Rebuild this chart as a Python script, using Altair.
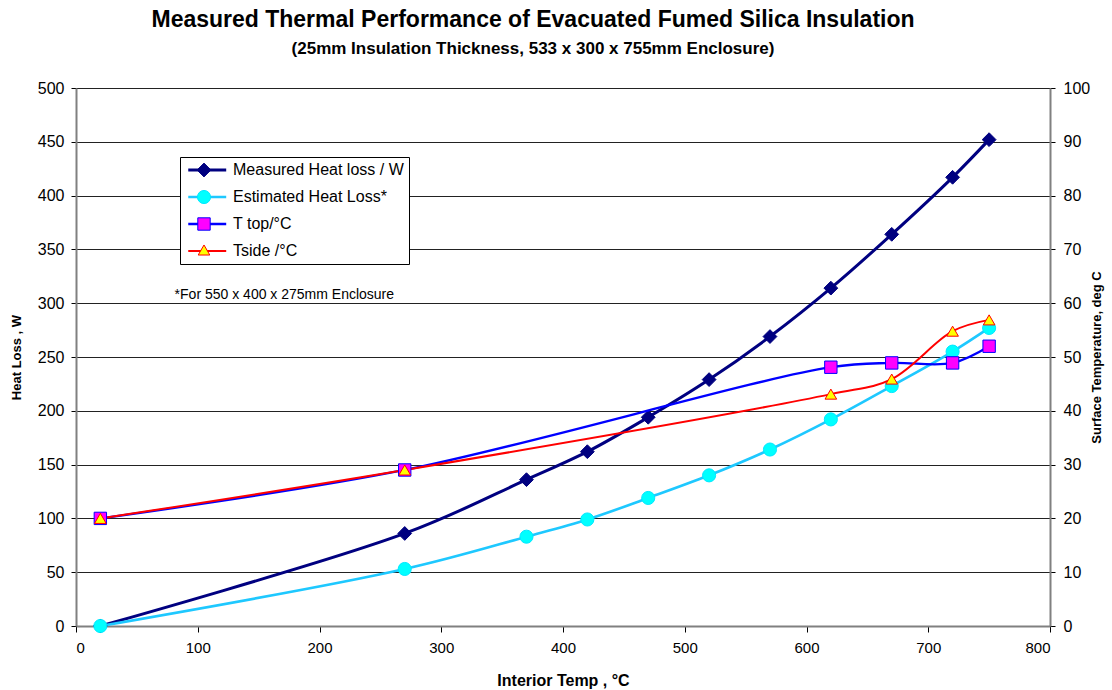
import altair as alt
import pandas as pd

# ---------------- data ----------------
series_names = ["Measured Heat loss / W", "Estimated Heat Loss*", "T top/°C", "Tside /°C"]
marker_keys = [s + " marker" for s in series_names]

heat_x = [20, 270, 370, 420, 470, 520, 570, 620, 670, 720, 750]
measured_w = [0, 86, 136, 162, 194, 229, 269, 314, 364, 417, 452]
estimated_w = [0, 53, 83, 99, 119, 140, 164, 192, 223, 255, 277]

temp_x = [20, 270, 620, 670, 720, 750]
t_top = [20, 29, 48.1, 48.9, 48.9, 52]
t_side = [20, 29, 43.1, 45.9, 54.8, 56.9]

note_text = ["*For 550 x 400 x 275mm Enclosure"]
note_x = [81]
note_y = [308]

x_ticks = list(range(0, 801, 100))
left_ticks = list(range(0, 501, 50))
right_ticks = list(range(0, 101, 10))

line_colors = ["#000080", "#1ec8ff", "#0000ff", "#ff0000"]
line_widths = [3, 2, 2, 2]
marker_fill = ["#000080", "#00ffff", "#ff00ff", "#ffff00"]
marker_stroke = ["#000080", "#00e8ff", "#0000ff", "#ff0000"]
marker_shapes = ["diamond", "circle", "square", "triangle-up"]
marker_sizes = [190, 135, 120, 150]

# ---------------- tables ----------------
def long_table(xs, ys, idx):
    return pd.DataFrame({"x": xs, "value": ys,
                         "series": series_names[idx], "marker": marker_keys[idx]})

heat_df = pd.concat([long_table(heat_x, measured_w, 0), long_table(heat_x, estimated_w, 1)])
temp_df = pd.concat([long_table(temp_x, t_top, 2), long_table(temp_x, t_side, 3)])
note_df = pd.DataFrame({"x": note_x, "value": note_y, "text": note_text})

LBL = "Liberation Sans"

# ---------------- scales / legends ----------------
color_scale = alt.Scale(domain=series_names, range=line_colors)
width_scale = alt.Scale(domain=series_names, range=line_widths)
fill_scale = alt.Scale(domain=marker_keys, range=marker_fill)
stroke_scale = alt.Scale(domain=marker_keys, range=marker_stroke)
shape_scale = alt.Scale(domain=marker_keys, range=marker_shapes)
size_scale = alt.Scale(domain=marker_keys, range=marker_sizes)

line_legend = alt.Legend(
    orient="none", legendX=104, legendY=69, title=None,
    symbolType="M-1,0H7", symbolSize=90, symbolStrokeWidth=2.5,
    labelFont=LBL, labelFontSize=16, labelColor="#000", labelOffset=32, labelLimit=400,
    fillColor="white", strokeColor="black", padding=5, rowPadding=11,
)
marker_legend = alt.Legend(
    orient="none", legendX=115, legendY=69, title=None,
    symbolStrokeWidth=1, symbolOpacity=1,
    labelFont=LBL, labelFontSize=16, labelExpr="''",
    padding=5, rowPadding=9,
)

x_enc = alt.X("x:Q", scale=alt.Scale(domain=[0, 800], nice=False),
              axis=alt.Axis(values=x_ticks, title="Interior Temp , °C", grid=False,
                            labelFont=LBL, labelFontSize=15, labelColor="#000",
                            labelPadding=8, tickSize=6, tickColor="#000",
                            domainColor="#808080", domainWidth=2,
                            titleFont=LBL, titleFontSize=16, titleFontWeight="bold",
                            titleColor="#000", titlePadding=17))

def lines(df):
    return alt.Chart(df).mark_line(interpolate="catmull-rom").encode(
        x=x_enc,
        color=alt.Color("series:N", scale=color_scale, legend=line_legend),
        strokeWidth=alt.StrokeWidth("series:N", scale=width_scale, legend=None),
    )

def points(df):
    return alt.Chart(df).mark_point(filled=True, strokeWidth=1, opacity=1).encode(
        x=x_enc,
        fill=alt.Fill("marker:N", scale=fill_scale, legend=marker_legend),
        stroke=alt.Stroke("marker:N", scale=stroke_scale, legend=marker_legend),
        shape=alt.Shape("marker:N", scale=shape_scale, legend=marker_legend),
        size=alt.Size("marker:N", scale=size_scale, legend=marker_legend),
    )

y_left = alt.Y("value:Q", scale=alt.Scale(domain=[0, 500], nice=False),
               axis=alt.Axis(values=left_ticks, title="Heat Loss , W", orient="left",
                             grid=True, gridColor="#222", gridWidth=1,
                             labelFont=LBL, labelFontSize=16, labelColor="#000",
                             labelPadding=7, tickSize=5, tickColor="#000",
                             domainColor="#808080", domainWidth=2,
                             titleFont=LBL, titleFontSize=13, titleFontWeight="bold",
                             titleColor="#000", titlePadding=14))
y_right = alt.Y("value:Q", scale=alt.Scale(domain=[0, 100], nice=False),
                axis=alt.Axis(values=right_ticks, title="Surface Temperature, deg C",
                              orient="right", grid=False, titleAngle=270,
                              labelFont=LBL, labelFontSize=16, labelColor="#000",
                              labelPadding=8, tickSize=5, tickColor="#000",
                              domainColor="#808080", domainWidth=2,
                              titleFont=LBL, titleFontSize=13, titleFontWeight="bold",
                              titleColor="#000", titlePadding=14))

note = alt.Chart(note_df).mark_text(align="left", baseline="middle", font=LBL,
                                    fontSize=14, color="#000").encode(
    x=x_enc, text="text:N")

heat_layer = alt.layer(lines(heat_df), points(heat_df), note).encode(y=y_left)
temp_layer = alt.layer(lines(temp_df), points(temp_df)).encode(y=y_right)

chart = alt.layer(heat_layer, temp_layer).resolve_scale(y="independent").properties(
    width=974, height=538,
    padding={"left": 76, "top": 88, "right": 62, "bottom": 64},
    autosize="none",
    title=alt.Title(
        text="Measured Thermal Performance of Evacuated Fumed Silica Insulation",
        subtitle="(25mm Insulation Thickness, 533 x 300 x 755mm Enclosure)",
        font=LBL, fontSize=23, fontWeight="bold", color="#000",
        subtitleFont=LBL, subtitleFontSize=17, subtitleFontWeight="bold",
        subtitleColor="#000", subtitlePadding=9, anchor="middle", dx=-30, offset=23,
    ),
).configure_view(strokeWidth=0).configure(background="white")

chart.save("out.html", embed_options={"renderer": "svg", "actions": False})
